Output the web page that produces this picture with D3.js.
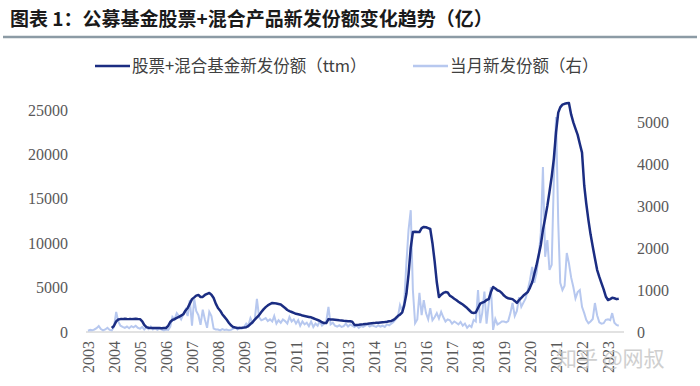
<!DOCTYPE html>
<html lang="zh">
<head>
<meta charset="utf-8">
<script src="https://d3js.org/d3.v7.min.js"></script>
<style>
  body { margin: 0; background: #fff; }
  svg text { font-family: "Liberation Serif", serif; }
  .cjk { font-family: "Noto Sans CJK SC", sans-serif; }
</style>
</head>
<body>
<svg id="chart" width="700" height="386"></svg>
<script>
// 当月新发份额（亿，右轴），2003-01 起按月
var newMonthly = [
  30, 50, 40, 60, 90, 140, 70, 40, 60, 100, 50, 40,          // 2003
  120, 480, 250, 150, 120, 100, 130, 90, 140, 110, 150, 100, // 2004
  80, 120, 60, 110, 70, 130, 60, 90, 50, 80, 60, 40,         // 2005
  60, 50, 120, 360, 300, 450, 380, 300, 420, 530, 380, 760,  // 2006
  150, 790, 500, 400, 170, 530, 300, 100, 480, 380, 80, 60,  // 2007
  60, 40, 70, 50, 60, 40, 50, 80, 100, 60, 110, 80,          // 2008
  120, 200, 150, 330, 220, 300, 790, 350, 280, 300, 330, 260,// 2009
  300, 250, 380, 200, 280, 220, 300, 260, 200, 360, 250, 300,// 2010
  200, 280, 150, 250, 180, 220, 140, 250, 120, 200, 150, 260,// 2011
  150, 200, 250, 600, 180, 220, 150, 130, 160, 120, 140, 200,// 2012
  130, 180, 150, 120, 160, 100, 140, 120, 150, 180, 130, 160,// 2013
  140, 120, 160, 130, 150, 120, 180, 160, 200, 240, 300, 350,// 2014
  640, 500, 700, 1640, 2430, 2900, 1000, 210, 300, 930, 400, 760, // 2015
  450, 300, 570, 280, 350, 450, 320, 480, 350, 250, 300, 280,// 2016
  200, 250, 220, 180, 240, 150, 200, 100, 160, 120, 290, 250,// 2017
  1000, 210, 450, 960, 200, 690, 1070, 50, 310, 180, 210, 250, // 2018
  250, 230, 260, 450, 690, 380, 500, 830, 600, 700, 800, 1000, // 2019
  1240, 1550, 1170, 1400, 1790, 2360, 3930, 1790, 2190, 1480, 1600, 3620, // 2020
  5120, 2600, 1170, 1000, 1100, 1880, 1640, 1300, 1070, 800, 950, 1000,  // 2021
  600, 450, 290, 210, 250, 310, 690, 400, 230, 200, 210, 290, // 2022
  300, 280, 450, 220, 170, 150                                // 2023
]

// 股票+混合基金新发份额 ttm（亿，左轴），2003-12 起按月
var ttmShares = [
  450,                                                                    // 2003
  700, 1200, 1400, 1450, 1450, 1480, 1460, 1450, 1450, 1470, 1480, 1460, // 2004
  1450, 1200, 800, 550, 480, 460, 450, 440, 450, 440, 430, 450,          // 2005
  450, 700, 1130, 1350, 1450, 1580, 1700, 1850, 2000, 2400, 2700, 3200,  // 2006
  3700, 3900, 4100, 4170, 3940, 3950, 4170, 4300, 4390, 4200, 3830, 3200,// 2007
  2700, 2400, 2000, 1700, 1400, 1050, 750, 560, 500, 460, 450, 470,      // 2008
  500, 540, 650, 900, 1100, 1400, 1650, 1900, 2250, 2550, 2800, 3000,    // 2009
  3150, 3270, 3250, 3200, 3150, 3100, 2900, 2700, 2480, 2350, 2250, 2150,// 2010
  2050, 2000, 1950, 1850, 1800, 1750, 1700, 1650, 1550, 1450, 1350, 1250,// 2011
  1100, 1000, 1000, 1450, 1420, 1400, 1380, 1350, 1320, 1300, 1270, 1250,// 2012
  1220, 1200, 1150, 800, 800, 820, 850, 870, 900, 920, 950, 980,         // 2013
  1000, 1030, 1050, 1080, 1100, 1120, 1150, 1200, 1250, 1350, 1550, 1800,// 2014
  1950, 2200, 3000, 4300, 6500, 9500, 11260, 11300, 11250, 11250, 11700, 11830, // 2015
  11800, 11700, 11600, 10000, 8000, 5600, 3940, 4200, 4400, 4500, 4450, 4100,   // 2016
  3940, 3750, 3600, 3400, 3250, 3100, 2900, 2700, 2450, 2200, 2150, 2200,// 2017
  2700, 3200, 3300, 3400, 3600, 3700, 4500, 5070, 4900, 4700, 4600, 4400,// 2018
  4100, 3900, 3800, 3750, 3700, 3500, 3270, 3600, 3850, 4100, 4300, 4500,// 2019
  5000, 5600, 6500, 7500, 8600, 9800, 11500, 12800, 14200, 15800, 17500, 19500, // 2020
  22500, 24700, 25300, 25600, 25700, 25750, 25800, 24500, 23600, 22900, 22200, 21200, // 2021
  20200, 16500, 14500, 12600, 11000, 9600, 8300, 7000, 6200, 5500, 4800, 4000, // 2022
  3600, 3700, 3850, 3800, 3700, 3750                                     // 2023
]

var years = d3.range(2003, 2024)
var leftTicks = [0, 5000, 10000, 15000, 20000, 25000]
var rightTicks = [0, 1000, 2000, 3000, 4000, 5000]

var title = "图表 1：公募基金股票+混合产品新发份额变化趋势（亿）"
var legendNames = ["股票+混合基金新发份额（ttm）", "当月新发份额（右）"]

var darkBlue = "#1b2d82"
var lightBlue = "#b7c8ef"

function monthly(values, y0, m0) {
    return values.map((v, i) => ({ date: new Date(y0, m0 + i, 1), value: v }))
}
var lightData = monthly(newMonthly, 2003, 0)
var darkData = monthly(ttmShares, 2003, 11)

var svg = d3.select("#chart")

var x = d3.scaleTime()
    .domain([new Date(2003, 0, 1), new Date(2023, 0, 1)])
    .range([88, 608])
var yL = d3.scaleLinear().domain([0, 25000]).range([332, 110])
var yR = d3.scaleLinear().domain([0, 5000]).range([332, 122])

// title
svg.append("text").attr("class", "cjk")
    .attr("x", 10).attr("y", 26)
    .attr("font-size", 19).attr("font-weight", "bold").attr("fill", "#1a1a1a")
    .text(title)
svg.append("line").attr("x1", 3).attr("x2", 697).attr("y1", 37).attr("y2", 37)
    .attr("stroke", "#8c9ba5").attr("stroke-width", 2.5)

// legend
var lg = svg.append("g").attr("class", "legend")
var legendPos = [95, 413]
lg.selectAll("line").data(legendNames).enter().append("line")
    .attr("x1", (d, i) => legendPos[i]).attr("x2", (d, i) => legendPos[i] + 35)
    .attr("y1", 66).attr("y2", 66)
    .attr("stroke", (d, i) => i ? lightBlue : darkBlue).attr("stroke-width", 2.5)
lg.selectAll("text").data(legendNames).enter().append("text").attr("class", "cjk")
    .attr("x", (d, i) => legendPos[i] + 37).attr("y", 66).attr("dy", "0.35em")
    .attr("font-size", 16.5).attr("fill", "#404040")
    .text(d => d)

// axes
var axL = svg.append("g").attr("transform", "translate(88,0)")
    .call(d3.axisLeft(yL).tickValues(leftTicks).tickSize(0).tickPadding(20).tickFormat(d3.format("d")))
var axR = svg.append("g").attr("transform", "translate(620,0)")
    .call(d3.axisRight(yR).tickValues(rightTicks).tickSize(0).tickPadding(17).tickFormat(d3.format("d")))
var axX = svg.append("g").attr("transform", "translate(0,332)")
    .call(d3.axisBottom(x).tickValues(years.map(y => new Date(y, 0, 1))).tickSize(0).tickFormat(d3.timeFormat("%Y")))
axX.selectAll("text")
    .attr("transform", "rotate(-90)").attr("text-anchor", "end")
    .attr("x", -9).attr("y", 0).attr("dy", "0.35em")
;[axL, axR, axX].forEach(a => {
    a.select(".domain").remove()
    a.selectAll("text").attr("font-size", 16).attr("fill", "#595959")
        .attr("font-family", "Liberation Serif, serif")
})

svg.append("line").attr("x1", 86).attr("x2", 624).attr("y1", 332).attr("y2", 332)
    .attr("stroke", "#d9d9d9").attr("stroke-width", 1.5)

// series
svg.append("path").datum(lightData)
    .attr("fill", "none").attr("stroke", lightBlue).attr("stroke-width", 2)
    .attr("d", d3.line().x(d => x(d.date)).y(d => yR(d.value)))
svg.append("path").datum(darkData)
    .attr("fill", "none").attr("stroke", darkBlue).attr("stroke-width", 2.5)
    .attr("stroke-linejoin", "round")
    .attr("d", d3.line().x(d => x(d.date)).y(d => yL(d.value)))

// watermark
svg.append("text").attr("class", "cjk")
    .attr("x", 556).attr("y", 366).attr("font-size", 21)
    .attr("fill", "#c4c4c4").attr("opacity", 0.8)
    .text("知乎 @网叔")
</script>
</body>
</html>
